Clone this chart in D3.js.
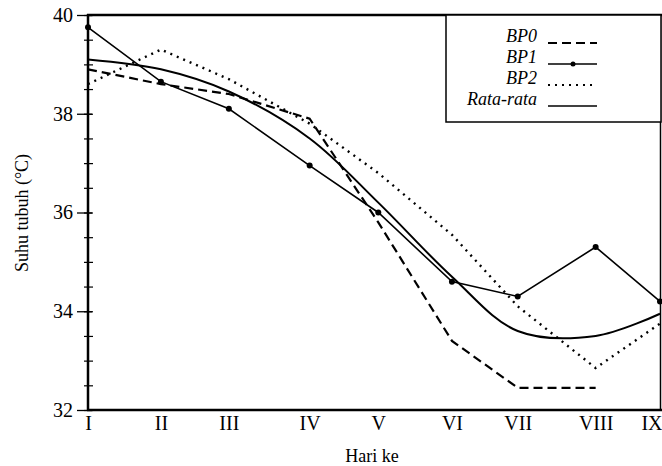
<!DOCTYPE html>
<html>
<head>
<meta charset="utf-8">
<script src="https://cdn.jsdelivr.net/npm/d3@7"></script>
<style>
	body { margin: 0; background: #fff; }
</style>
</head>
<body>
<div id="grafik"></div>
<script>
// Hari pengamatan
var hari = ["I", "II", "III", "IV", "V", "VI", "VII", "VIII", "IX"];
// Letak tiap hari pada sumbu (dalam satuan hari)
var posisiHari = [1, 2.02, 2.97, 4.10, 5.06, 6.09, 7.01, 8.10, 9];

// Suhu tubuh (°C) per kelompok
var bp0 = [38.9, 38.6, 38.4, 37.9, 35.8, 33.4, 32.45, 32.45, null];
var bp1 = [39.75, 38.65, 38.1, 36.95, 36.0, 34.6, 34.3, 35.3, 34.2];
var bp2 = [38.6, 39.3, 38.7, 37.8, 36.8, 35.55, 34.1, 32.85, 33.75];
var rataRata = [39.1, 38.9, 38.45, 37.5, 36.2, 34.7, 33.6, 33.5, 33.95];

var tickSuhu = [32, 34, 36, 38, 40];
var namaSeri = ["BP0", "BP1", "BP2", "Rata-rata"];

var lebar = 662, tinggi = 466;
var hurufSerif = "'Liberation Serif', 'Times New Roman', 'DejaVu Serif', serif";

var svg = d3.select("#grafik")
	.append("svg")
	.attr("width", lebar)
	.attr("height", tinggi)
	.style("font-family", hurufSerif);

// Skala
var x = d3.scaleLinear().domain([1, 9]).range([88, 660]);
var y = d3.scaleLinear().domain([32, 40]).range([410, 15]);

// Sumbu Y: tick utama
var sumbuY = svg.append("g")
	.attr("transform", "translate(92,0)")
	.call(d3.axisLeft(y).tickValues(tickSuhu).tickSize(15).tickPadding(4).tickFormat(d3.format("d")));
sumbuY.attr("font-family", null);
sumbuY.select(".domain").remove();
sumbuY.selectAll("line").attr("stroke", "#000").attr("stroke-width", 1.3);
sumbuY.selectAll("text").style("font-size", "20px").style("font-family", hurufSerif);

// Sumbu Y: tick kecil
var sumbuYKecil = svg.append("g")
	.attr("transform", "translate(93,0)")
	.call(d3.axisLeft(y).tickValues(d3.range(32, 40.01, 0.5)).tickSize(9).tickFormat(""));
sumbuYKecil.select(".domain").remove();
sumbuYKecil.selectAll("line").attr("stroke", "#000").attr("stroke-width", 1.2);

// Sumbu X
var sumbuX = svg.append("g")
	.attr("transform", "translate(0,410)")
	.call(d3.axisBottom(x).tickValues(posisiHari).tickSize(0)
		.tickFormat(function (d, i) { return hari[i]; }));
sumbuX.attr("font-family", null);
sumbuX.select(".domain").remove();
sumbuX.selectAll("text")
	.attr("y", 20)
	.attr("dy", 0)
	.style("font-size", "20px")
	.style("font-family", hurufSerif);
sumbuX.selectAll(".tick").filter(function (d, i) { return i === hari.length - 1; })
	.select("text")
	.attr("text-anchor", "end")
	.attr("x", 2);

// Bingkai
var bingkai = svg.append("g").attr("fill", "none").attr("stroke", "#000");
bingkai.append("line").attr("x1", 88).attr("x2", 88).attr("y1", 14).attr("y2", 411).attr("stroke-width", 2.5);
bingkai.append("line").attr("x1", 87).attr("x2", 662).attr("y1", 410).attr("y2", 410).attr("stroke-width", 2.5);
bingkai.append("line").attr("x1", 87).attr("x2", 662).attr("y1", 15).attr("y2", 15).attr("stroke-width", 2.5);
bingkai.append("line").attr("x1", 660.5).attr("x2", 660.5).attr("y1", 15).attr("y2", 410).attr("stroke-width", 1.5);

// Garis data
function buatData(nilai) {
	return nilai.map(function (v, i) { return { x: posisiHari[i], v: v }; });
}

var garis = d3.line()
	.defined(function (d) { return d.v !== null; })
	.x(function (d) { return x(d.x); })
	.y(function (d) { return y(d.v); });

var garisHalus = d3.line()
	.x(function (d) { return x(d.x); })
	.y(function (d) { return y(d.v); })
	.curve(d3.curveCatmullRom.alpha(0.5));

var gayaSeri = [
	{ data: bp0, dash: "9,5", lebar: 2.2, fn: garis },
	{ data: bp1, dash: null, lebar: 1.6, fn: garis },
	{ data: bp2, dash: "2,5", lebar: 2.4, fn: garis },
	{ data: rataRata, dash: null, lebar: 2, fn: garisHalus }
];

gayaSeri.forEach(function (s) {
	svg.append("path")
		.datum(buatData(s.data))
		.attr("fill", "none")
		.attr("stroke", "#000")
		.attr("stroke-width", s.lebar)
		.attr("stroke-dasharray", s.dash)
		.attr("d", s.fn);
});

// Titik BP1
svg.selectAll(".titik-bp1")
	.data(buatData(bp1))
	.enter()
	.append("circle")
	.attr("class", "titik-bp1")
	.attr("cx", function (d) { return x(d.x); })
	.attr("cy", function (d) { return y(d.v); })
	.attr("r", 3)
	.attr("fill", "#000");

// Legenda
var legenda = svg.append("g");
legenda.append("rect")
	.attr("x", 446).attr("y", 15)
	.attr("width", 215).attr("height", 107)
	.attr("fill", "#fff")
	.attr("stroke", "#000")
	.attr("stroke-width", 1.5);

var baris = legenda.selectAll(".baris")
	.data(namaSeri)
	.enter()
	.append("g")
	.attr("class", "baris")
	.attr("transform", function (d, i) { return "translate(0," + (42 + i * 21) + ")"; });

baris.append("text")
	.attr("x", 537)
	.attr("text-anchor", "end")
	.style("font-size", "18px")
	.style("font-style", "italic")
	.text(function (d) { return d; });

baris.append("line")
	.attr("x1", 548).attr("x2", 597)
	.attr("y1", 1).attr("y2", 1)
	.attr("stroke", "#000")
	.attr("stroke-width", function (d, i) { return gayaSeri[i].lebar * 0.8; })
	.attr("stroke-dasharray", function (d, i) { return gayaSeri[i].dash; });

baris.filter(function (d, i) { return i === 1; })
	.append("circle")
	.attr("cx", 573).attr("cy", 1).attr("r", 2.5)
	.attr("fill", "#000");

// Judul sumbu
svg.append("text")
	.attr("transform", "translate(28,213) rotate(-90)")
	.attr("text-anchor", "middle")
	.style("font-size", "18px")
	.text("Suhu tubuh (°C)");

svg.append("text")
	.attr("x", 372)
	.attr("y", 462)
	.attr("text-anchor", "middle")
	.style("font-size", "18px")
	.text("Hari ke");
</script>
</body>
</html>
